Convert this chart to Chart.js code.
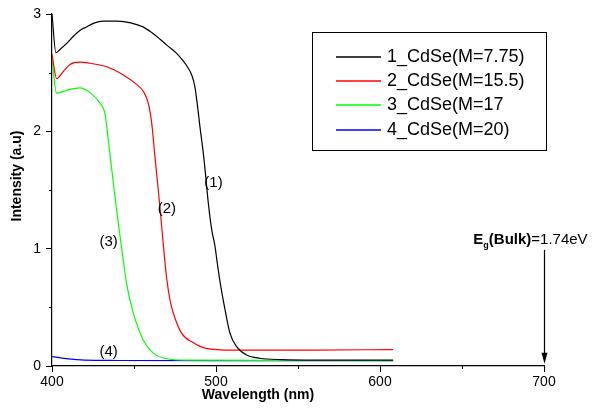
<!DOCTYPE html>
<html>
<head>
<meta charset="utf-8">
<script src="https://cdn.jsdelivr.net/npm/chart.js@4"></script>
<style>
  body { margin: 0; background: #fff; }
  canvas { display: block; }
</style>
</head>
<body>
<canvas id="absChart" width="593" height="412"></canvas>
<script>
// wavelength (nm) / intensity (a.u)
const wl1 = [400, 402.4, 405, 409, 413, 417, 421, 425.2, 431.3, 440, 448, 455.5, 461, 465.9, 470, 476, 480, 483, 485.2, 487, 488.6, 490.2, 492.3, 493.7, 495.3, 497.4, 499.4, 500.8, 502.9, 505.5, 508.5, 512.6, 518.7, 526.8, 540, 560, 608];
const int1 = [3.0, 2.67, 2.70, 2.75, 2.81, 2.86, 2.89, 2.92, 2.94, 2.94, 2.925, 2.89, 2.84, 2.785, 2.735, 2.665, 2.60, 2.54, 2.48, 2.39, 2.23, 2.04, 1.81, 1.62, 1.39, 1.16, 1.02, 0.875, 0.68, 0.48, 0.28, 0.165, 0.094, 0.066, 0.054, 0.05, 0.05];

const wl2 = [400, 402.8, 406.9, 411, 417, 423.2, 433.4, 443.5, 451.6, 455.7, 458.7, 460.8, 462.8, 464.8, 466.3, 467.9, 469.9, 472, 474, 479, 486, 494, 510, 560, 608];
const int2 = [2.66, 2.45, 2.51, 2.57, 2.59, 2.58, 2.55, 2.48, 2.40, 2.34, 2.24, 2.07, 1.78, 1.50, 1.28, 1.03, 0.75, 0.56, 0.45, 0.28, 0.20, 0.15, 0.135, 0.136, 0.14];

const wl3 = [400, 402.8, 409, 417, 423.2, 429.3, 432.3, 434.3, 436.4, 438.4, 440.4, 442.5, 445.5, 449.6, 455.7, 461.8, 470, 482, 540, 608];
const int3 = [2.61, 2.325, 2.35, 2.37, 2.33, 2.24, 2.15, 1.93, 1.68, 1.44, 1.22, 1.0, 0.70, 0.45, 0.22, 0.11, 0.062, 0.05, 0.047, 0.046];

const wl4 = [400, 410, 420, 440, 500, 608];
const int4 = [0.08, 0.06, 0.05, 0.047, 0.045, 0.045];

const seriesNames = ["1_CdSe(M=7.75)", "2_CdSe(M=15.5)", "3_CdSe(M=17", "4_CdSe(M=20)"];
const seriesColors = ["#000000", "#ff0000", "#00ff00", "#0000ff"];

const curveTags = ["(1)", "(2)", "(3)", "(4)"];
const tagX = [498.5, 470.0, 434.5, 434.5];
const tagY = [1.56, 1.34, 1.06, 0.12];

const xTicks = [400, 500, 600, 700];
const yTicks = [0, 1, 2, 3];

const bulkGapX = 700;
const bulkGapText = ["E", "g", "(Bulk)", "=1.74eV"];

function pairs(xs, ys) {
  return xs.map((x, i) => ({ x: x, y: ys[i] }));
}

const FONT = "'Liberation Sans', Arial, sans-serif";

const extras = {
  id: "extras",
  afterDraw(chart) {
    const ctx = chart.ctx;
    const xs = chart.scales.x;
    const ys = chart.scales.y;
    const area = chart.chartArea;
    ctx.save();

    // minor ticks
    ctx.strokeStyle = "#000";
    ctx.lineWidth = 1;
    for (let v = 450; v < 700; v += 100) {
      const px = Math.round(xs.getPixelForValue(v)) + 0.5;
      ctx.beginPath();
      ctx.moveTo(px, area.bottom);
      ctx.lineTo(px, area.bottom + 3);
      ctx.stroke();
    }
    for (let v = 0.5; v < 3; v += 1) {
      const py = Math.round(ys.getPixelForValue(v)) + 0.5;
      ctx.beginPath();
      ctx.moveTo(area.left - 3, py);
      ctx.lineTo(area.left, py);
      ctx.stroke();
    }

    // axis titles
    ctx.fillStyle = "#000";
    ctx.font = "bold 14px " + FONT;
    ctx.textAlign = "center";
    ctx.textBaseline = "middle";
    ctx.fillText("Wavelength (nm)", 258, 395);
    ctx.save();
    ctx.translate(17, 176);
    ctx.rotate(-Math.PI / 2);
    ctx.fillText("Intensity (a.u)", 0, 0);
    ctx.restore();

    // curve tags
    ctx.font = "15px " + FONT;
    curveTags.forEach((t, i) => {
      ctx.fillText(t, xs.getPixelForValue(tagX[i]), ys.getPixelForValue(tagY[i]));
    });

    // bulk gap label and arrow
    let lx = xs.getPixelForValue(656.9);
    const ly = ys.getPixelForValue(1.08) + 5;
    ctx.textAlign = "left";
    ctx.textBaseline = "alphabetic";
    ctx.font = "bold 15px " + FONT;
    ctx.fillText(bulkGapText[0], lx, ly);
    lx += ctx.measureText(bulkGapText[0]).width;
    ctx.font = "bold 9px " + FONT;
    ctx.fillText(bulkGapText[1], lx, ly + 4);
    lx += ctx.measureText(bulkGapText[1]).width;
    ctx.font = "bold 15px " + FONT;
    ctx.fillText(bulkGapText[2], lx, ly);
    lx += ctx.measureText(bulkGapText[2]).width;
    ctx.font = "15px " + FONT;
    ctx.fillText(bulkGapText[3], lx, ly);

    const ax = Math.round(xs.getPixelForValue(bulkGapX)) + 0.5;
    const top = ys.getPixelForValue(0.99);
    const tip = ys.getPixelForValue(0.02);
    ctx.lineWidth = 1.2;
    ctx.beginPath();
    ctx.moveTo(ax, top);
    ctx.lineTo(ax, tip - 8);
    ctx.stroke();
    ctx.beginPath();
    ctx.moveTo(ax - 3, tip - 11);
    ctx.lineTo(ax + 3, tip - 11);
    ctx.lineTo(ax, tip);
    ctx.closePath();
    ctx.fill();

    // legend box
    ctx.lineWidth = 1;
    ctx.strokeStyle = "#000";
    ctx.strokeRect(312.5, 32.5, 234, 118);
    ctx.font = "18px " + FONT;
    ctx.textBaseline = "middle";
    seriesNames.forEach((name, i) => {
      const ry = 57 + i * 24.2;
      ctx.strokeStyle = seriesColors[i];
      ctx.lineWidth = 1.5;
      ctx.beginPath();
      ctx.moveTo(336, Math.round(ry));
      ctx.lineTo(381, Math.round(ry));
      ctx.stroke();
      ctx.fillStyle = "#000";
      ctx.fillText(name, 387, ry);
    });
    ctx.restore();
  }
};

new Chart(document.getElementById("absChart"), {
  type: "line",
  data: {
    datasets: seriesNames.map((name, i) => ({
      label: name,
      data: pairs([wl1, wl2, wl3, wl4][i], [int1, int2, int3, int4][i]),
      borderColor: seriesColors[i],
      backgroundColor: seriesColors[i],
      borderWidth: 1.2,
      pointRadius: 0,
      fill: false,
      cubicInterpolationMode: "monotone"
    }))
  },
  options: {
    responsive: false,
    animation: false,
    layout: { padding: { top: 14, right: 49, left: 0, bottom: 0 } },
    plugins: { legend: { display: false }, tooltip: { enabled: false } },
    scales: {
      x: {
        type: "linear",
        min: 400,
        max: 700,
        ticks: {
          stepSize: 50,
          color: "#000",
          font: { family: FONT, size: 14 },
          padding: 2,
          maxRotation: 0,
          callback: v => xTicks.includes(v) ? String(v) : ""
        },
        grid: {
          drawOnChartArea: false,
          tickLength: 6,
          tickColor: c => xTicks.includes(c.tick.value) ? "#000" : "rgba(0,0,0,0)"
        },
        border: { color: "#000", width: 1.2 },
        afterFit: s => { s.height = 46; }
      },
      y: {
        min: 0,
        max: 3,
        ticks: {
          stepSize: 0.5,
          color: "#000",
          font: { family: FONT, size: 14 },
          padding: 5,
          callback: v => yTicks.includes(v) ? String(v) : ""
        },
        grid: {
          drawOnChartArea: false,
          tickLength: 6,
          tickColor: c => yTicks.includes(c.tick.value) ? "#000" : "rgba(0,0,0,0)"
        },
        border: { color: "#000", width: 1.2 },
        afterFit: s => { s.width = 52; }
      }
    }
  },
  plugins: [extras]
});
</script>
</body>
</html>
